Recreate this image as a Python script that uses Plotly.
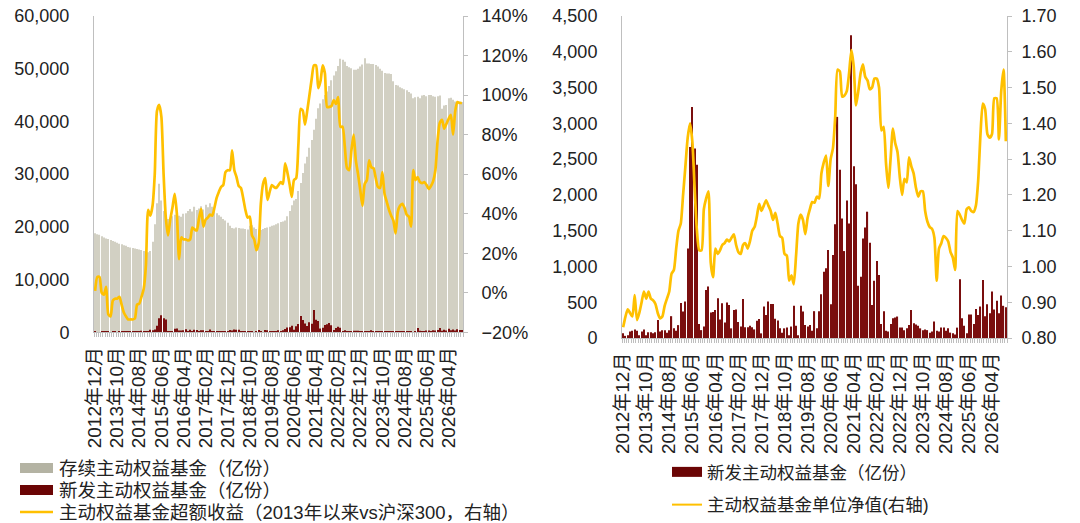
import plotly.graph_objects as go

# 月份：2012年12月起，共167个月
start_year, start_month = 2012, 12
n_months = 167

# 存续主动权益基金（亿份）
stock = [
    18800, 18600, 18500, 18200, 18000, 17800, 17700, 17500, 17300, 17200,
    17000, 16800, 16700, 16500, 16400, 16200, 16100, 16000, 15900, 15800,
    15700, 15600, 15400, 15100, 15200, 15400, 17200, 20500, 24500, 28200,
    25000, 23000, 22000, 21500, 21200, 22000, 22300, 21800, 22100, 21900,
    22500, 22600, 23000, 23400, 22900, 23800, 23200, 23500, 23900, 23300,
    24200, 23700, 24500, 23800, 23000, 22600, 22200, 21900, 21500, 21200,
    20800, 20200, 19800, 19700, 19900, 19800, 19700, 19700, 19600, 19500,
    20200, 20300, 19900, 19600, 19500, 19400, 19600, 19800, 19900, 20000,
    20200, 20300, 20500, 20700, 20900, 21000, 21200, 22000, 23000, 24100,
    25000, 25300, 26800, 28300, 30200, 32000, 33300, 35000, 36500, 38400,
    40500, 42500, 43400, 44200, 45000, 45700, 46700, 47800, 48700, 49500,
    50500, 51900, 51700, 51300, 50500, 50300, 50100, 49800, 49800, 50000,
    50400, 50800, 52000, 51000, 51000, 50900, 50900, 50700, 50400, 50000,
    49600, 49200, 49100, 49100, 49000, 47600, 46900, 46800, 46500, 46300,
    46100, 45900, 45600, 45300, 44400, 44600, 44700, 44400, 44900, 45000,
    44800, 45000, 45000, 44800, 44700, 44800, 44900, 42400, 43000, 43100,
    44400, 44500, 44100, 43800, 43700, 43800, 43700,
]

# 新发主动权益基金（亿份）
new_issue = [
    65, 30, 40, 90, 100, 120, 100, 40, 90, 120,
    40, 80, 80, 65, 80, 250, 90, 110, 110, 75,
    110, 305, 135, 100, 180, 490, 370, 510, 1250, 2670,
    3230, 2650, 2420, 195, 110, 160, 670, 720, 355, 365,
    390, 555, 260, 485, 215, 495, 460, 135, 390, 400,
    225, 160, 545, 150, 150, 170, 150, 120, 240, 265,
    65, 440, 320, 510, 475, 475, 270, 245, 135, 75,
    135, 145, 40, 160, 450, 170, 40, 450, 370, 180,
    160, 180, 100, 375, 135, 375, 610, 925, 975, 1230,
    470, 1160, 1590, 3090, 2350, 1670, 1215, 1920, 1600, 4230,
    2400, 2150, 730, 855, 1390, 1545, 1765, 1330, 460, 800,
    1075, 880, 195, 375, 100, 90, 195, 275, 285, 300,
    145, 145, 110, 135, 180, 390, 205, 190, 170, 135,
    110, 120, 110, 75, 90, 230, 100, 90, 145, 145,
    100, 135, 75, 65, 50, 145, 820, 275, 170, 65,
    330, 330, 195, 405, 320, 440, 810, 305, 470, 345,
    650, 400, 520, 345, 595, 450, 430,
]

# 主动权益基金超额收益（%，2013年以来vs沪深300）
excess = [
    1, 8, 8, 0, -1, 3, -11, -12, -4, -3,
    -3, -2, -6, -10, -12, -13.5, -13.5, -13.5, -13, -6,
    -5.5, -2, 2, 14, 42, 39, 44, 60, 92, 95,
    89, 60, 38, 29, 37, 43, 50, 40, 17, 28,
    27, 27, 26.5, 27, 33, 32, 31.5, 37.5, 42.5, 33.5,
    37, 38, 39.5, 39, 43, 48, 51, 53.5, 54.5, 61,
    62, 62, 72, 62, 58.5, 54, 53, 48, 42, 38,
    38.5, 29, 27, 21.5, 25, 45, 55, 58, 47, 51,
    54.5, 53.5, 53, 54.5, 56, 55, 65.5, 61, 55, 48.5,
    57, 58, 75, 93, 92, 85, 92, 100, 108, 115,
    115, 103.5, 107, 115, 111, 94, 94, 94.5, 97.5, 95.5,
    99, 84, 84, 74, 63, 62, 72, 80, 67, 60,
    52, 44, 55, 57, 67, 63.5, 63, 58, 53.5, 53,
    61, 50, 46, 42, 39, 36.5, 30, 41, 44, 45,
    43, 39.5, 38.5, 33.5, 62, 57, 58.5, 56, 55.5, 56,
    54.5, 52.5, 54, 56.5, 62, 77, 86, 87.5, 83, 85.5,
    88, 90, 80, 92, 96.5, 96, 96,
]

# 主动权益基金单位净值
nav = [
    0.83, 0.86, 0.88, 0.87, 0.86, 0.92, 0.85, 0.87, 0.90, 0.93,
    0.91, 0.93, 0.91, 0.905, 0.895, 0.87, 0.855, 0.86, 0.89, 0.91,
    0.93, 0.98, 0.99, 1.05, 1.10, 1.12, 1.20, 1.28, 1.36, 1.40,
    1.35, 1.22, 1.10, 1.045, 1.045, 1.16, 1.19, 1.21, 1.01, 0.97,
    1.05, 1.035, 1.045, 1.06, 1.065, 1.075, 1.07, 1.08, 1.09, 1.06,
    1.04, 1.035, 1.06, 1.065, 1.05, 1.07, 1.10, 1.11, 1.14, 1.175,
    1.155, 1.17, 1.185, 1.17, 1.155, 1.13, 1.15, 1.12, 1.085, 1.08,
    1.035, 1.03, 0.96, 0.975, 0.95, 1.03, 1.12, 1.145, 1.13, 1.09,
    1.135, 1.16, 1.18, 1.178, 1.195, 1.19, 1.26, 1.29, 1.31, 1.225,
    1.30, 1.33, 1.42, 1.55, 1.545, 1.475, 1.478, 1.49, 1.54, 1.605,
    1.56, 1.45, 1.49, 1.54, 1.565, 1.53, 1.52, 1.495, 1.50, 1.525,
    1.525, 1.50, 1.38, 1.39, 1.29, 1.22, 1.30, 1.385, 1.345, 1.32,
    1.25, 1.20, 1.245, 1.235, 1.305, 1.28, 1.26, 1.22, 1.195, 1.21,
    1.21, 1.155, 1.125, 1.11, 1.105, 1.08, 0.96, 1.05, 1.065, 1.085,
    1.08, 1.07, 1.04, 1.025, 0.99, 1.155, 1.145, 1.13, 1.12, 1.16,
    1.165, 1.155, 1.152, 1.17, 1.24, 1.37, 1.455, 1.44, 1.37, 1.36,
    1.37, 1.47, 1.47, 1.355, 1.49, 1.55, 1.35,
]

months = []
yy, mm = start_year, start_month
for _ in range(n_months):
    months.append('%d年%02d月' % (yy, mm))
    mm += 1
    if mm > 12:
        yy, mm = yy + 1, 1
x = list(range(n_months))
tickvals = x[::10]
ticktext = months[::10]

GRAY = '#D2D0C3'
GRAY_LEG = '#B4B3A3'
RED = '#7A0E0E'
RED_LEG = '#6B0505'
GOLD = '#FFC000'
AXIS = '#BFBFBF'
FONT = 'Arial, "Liberation Sans", "Noto Sans CJK SC", sans-serif'
TXT = '#222222'

W, H = 1080, 523

fig = go.Figure()

# 左图
fig.add_trace(go.Bar(x=x, y=stock, marker=dict(color=GRAY, line=dict(width=0)),
                     xaxis='x', yaxis='y', showlegend=False, hoverinfo='skip'))
fig.add_trace(go.Bar(x=x, y=new_issue, marker=dict(color=RED, line=dict(width=0)),
                     xaxis='x', yaxis='y', showlegend=False, hoverinfo='skip'))
fig.add_trace(go.Scatter(x=x, y=excess, mode='lines', xaxis='x', yaxis='y2',
                         line=dict(color=GOLD, width=2.7, shape='spline', smoothing=0.6),
                         showlegend=False))

# 右图
fig.add_trace(go.Bar(x=x, y=new_issue, marker=dict(color=RED, line=dict(width=0)),
                     xaxis='x2', yaxis='y3', showlegend=False, hoverinfo='skip'))
fig.add_trace(go.Scatter(x=x, y=nav, mode='lines', xaxis='x2', yaxis='y4',
                         line=dict(color=GOLD, width=2.7, shape='spline', smoothing=0.6),
                         showlegend=False))

# 右图图例
def leg(name, color, width, group):
    fig.add_trace(go.Scatter(x=[None], y=[None], mode='lines', name=name,
                             line=dict(color=color, width=width),
                             legend='legend2', legendgroup=group, xaxis='x', yaxis='y'))

leg('新发主动权益基金（亿份）', RED_LEG, 10, 'd')
leg('主动权益基金单位净值(右轴)', GOLD, 2, 'e')

# 左图图例（文字 + 色块），行距比内置图例更紧
left_legend = [
    ('存续主动权益基金（亿份）', GRAY_LEG, 10, 468),
    ('新发主动权益基金（亿份）', RED_LEG, 10, 490),
    ('主动权益基金超额收益（2013年以来vs沪深300，右轴）', GOLD, 2.5, 512),
]
for name, color, lw, py in left_legend:
    yp = 1 - py / H
    fig.add_shape(type='line', xref='paper', yref='paper', x0=20 / W, x1=53 / W,
                  y0=yp, y1=yp, line=dict(color=color, width=lw))
    fig.add_annotation(text=name, xref='paper', yref='paper', x=57 / W, y=yp,
                       xanchor='left', yanchor='middle', showarrow=False,
                       font=dict(family=FONT, size=18.5, color=TXT))

xcommon = dict(range=[-0.5, n_months - 0.5], tickmode='array', tickvals=tickvals,
               ticktext=ticktext, tickangle=-90, ticks='', showline=True,
               linecolor=AXIS, linewidth=1, showgrid=False, zeroline=False,
               ticklabelstandoff=6, automargin=False,
               tickfont=dict(family=FONT, size=19, color=TXT),
               minor=dict(tickmode='linear', tick0=-0.5, dtick=1, ticks='outside',
                          ticklen=4, tickcolor=AXIS, tickwidth=1, showgrid=False))
ycommon = dict(showline=True, linecolor=AXIS, linewidth=1, showgrid=False,
               zeroline=False, automargin=False,
               tickfont=dict(family=FONT, size=18, color=TXT))

def dom(top, bottom):
    return [1 - bottom / H, 1 - top / H]

fig.update_layout(
    width=W, height=H,
    margin=dict(l=0, r=0, t=0, b=0),
    paper_bgcolor='white', plot_bgcolor='white',
    barmode='overlay', bargap=0.5,
    font=dict(family=FONT, size=18, color=TXT),
    xaxis=dict(xcommon, domain=[94 / W, 463 / W], anchor='y'),
    yaxis=dict(ycommon, domain=dom(16, 332.3), range=[0, 60000], dtick=10000,
               tickformat=',', ticks='', ticklabelstandoff=20),
    yaxis2=dict(ycommon, overlaying='y', side='right', anchor='x',
                range=[-20, 140], dtick=20, ticksuffix='%', ticks='outside',
                ticklen=4, tickcolor=AXIS, ticklabelstandoff=10),
    xaxis2=dict(xcommon, domain=[622 / W, 1007 / W], anchor='y3'),
    yaxis3=dict(ycommon, domain=dom(16, 338), anchor='x2', range=[0, 4500],
                dtick=500, tickformat=',', ticks='', ticklabelstandoff=20),
    yaxis4=dict(ycommon, overlaying='y3', side='right', anchor='x2',
                range=[0.8, 1.7], dtick=0.1, tickformat='.2f', ticks='outside',
                ticklen=4, tickcolor=AXIS, ticklabelstandoff=6),
    legend2=dict(x=667 / W, xanchor='left', y=0, yanchor='bottom',
                 bgcolor='rgba(0,0,0,0)', font=dict(family=FONT, size=17.5, color=TXT),
                 traceorder='grouped', tracegroupgap=7, itemwidth=30),
)

fig.write_html('out.html', config={'displayModeBar': False},
               post_script="document.body.style.margin='0';")
